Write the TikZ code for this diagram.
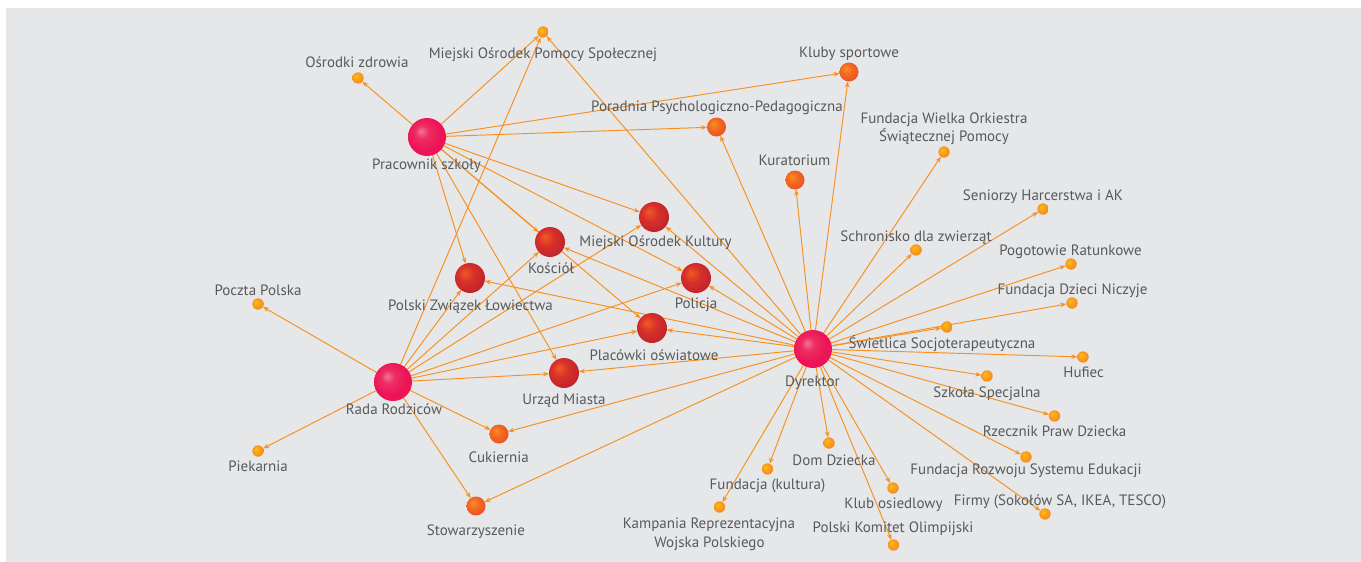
\documentclass[tikz,border=0pt]{standalone}
\usepackage{fontspec}
\setmainfont{PT Sans}
\usetikzlibrary{arrows.meta}
\definecolor{bggray}{HTML}{E6E7E8}
\definecolor{edgeor}{HTML}{F7901E}
\definecolor{txtgray}{HTML}{58595B}
\definecolor{pinkhi}{HTML}{F37594}
\definecolor{pinkmid}{HTML}{EE2D62}
\definecolor{pinkedge}{HTML}{EC1456}
\definecolor{redhi}{HTML}{F15A24}
\definecolor{redmid}{HTML}{D7302A}
\definecolor{rededge}{HTML}{B91F2E}
\definecolor{orhi}{HTML}{F7901E}
\definecolor{ormid}{HTML}{F26A22}
\definecolor{oredge}{HTML}{EE4B23}
\definecolor{yhi}{HTML}{FDC010}
\definecolor{ymid}{HTML}{F9A01B}
\definecolor{yedge}{HTML}{F5851F}
\pgfdeclareradialshading{pinkball}{\pgfpoint{-8bp}{8bp}}{color(0bp)=(pinkhi); color(9bp)=(pinkmid); color(22bp)=(pinkedge); color(50bp)=(pinkedge)}
\pgfdeclareradialshading{redball}{\pgfpoint{-9bp}{9bp}}{color(0bp)=(redhi); color(14bp)=(redmid); color(34bp)=(rededge); color(50bp)=(rededge)}
\pgfdeclareradialshading{orball}{\pgfpoint{-9bp}{9bp}}{color(0bp)=(orhi); color(14bp)=(ormid); color(32bp)=(oredge); color(50bp)=(oredge)}
\pgfdeclareradialshading{yball}{\pgfpoint{-9bp}{9bp}}{color(0bp)=(yhi); color(14bp)=(ymid); color(32bp)=(yedge); color(50bp)=(yedge)}
\pgfdeclarelayer{back}
\pgfdeclarelayer{edges}
\pgfsetlayers{back,edges,main}
\tikzset{
  ball/.style={circle, inner sep=0pt, outer sep=0pt},
  bigball/.style={ball, minimum size=38pt, shading=pinkball},
  redb/.style={ball, minimum size=30pt, shading=redball},
  orb/.style={ball, minimum size=19pt, shading=orball},
  dotb/.style={ball, minimum size=11.4pt, shading=yball},
  lbl/.style={anchor=base, inner sep=0pt, text=txtgray, font=\fontsize{15}{17}\selectfont},
  conn/.style={draw=edgeor, line width=0.95pt, -{Stealth[length=6pt,width=4.6pt]}},
}
\begin{document}
\begin{tikzpicture}[x=1pt, y=-1pt]
\useasboundingbox (0,0) rectangle (1361,562);
\begin{pgfonlayer}{back}
\fill[bggray] (6,8) rectangle (1361,562);
\end{pgfonlayer}
% hubs
\node[bigball] (P) at (427,137) {};
\node[bigball] (R) at (393,382) {};
\node[bigball] (D) at (813,349) {};
% red
\node[redb] (mok) at (654,217) {};
\node[redb] (policja) at (696,278) {};
\node[redb] (placowki) at (652,328) {};
\node[redb] (kosciol) at (550,242) {};
\node[redb] (pzl) at (470,278) {};
\node[redb] (urzad) at (564,373) {};
% orange
\node[orb] (kluby) at (849,72) {};
\node[orb] (poradnia) at (716.5,127) {};
\node[orb] (kurat) at (795,180) {};
\node[orb] (cukier) at (499,434) {};
\node[orb] (stow) at (476,506) {};
% small
\node[dotb] (mops) at (543,32) {};
\node[dotb] (osr) at (358,78) {};
\node[dotb] (wosp) at (944,152) {};
\node[dotb] (senior) at (1043,209) {};
\node[dotb] (schron) at (916,250) {};
\node[dotb] (pogot) at (1071,264) {};
\node[dotb] (fdn) at (1072,303) {};
\node[dotb] (swiet) at (947,327) {};
\node[dotb] (hufiec) at (1083,357) {};
\node[dotb] (szkola) at (987,376) {};
\node[dotb] (rzecz) at (1054.5,416) {};
\node[dotb] (frse) at (1026,457) {};
\node[dotb] (firmy) at (1045,514) {};
\node[dotb] (pko) at (893.5,545) {};
\node[dotb] (klub) at (893,488) {};
\node[dotb] (dom) at (829,443) {};
\node[dotb] (fkult) at (767.5,469) {};
\node[dotb] (kamp) at (719.5,507) {};
\node[dotb] (piek) at (258,451) {};
\node[dotb] (poczta) at (258,304) {};
% labels
\node[lbl] (lP) at (426.5,169.3) {Pracownik szkoły};
\node[lbl] (lR) at (394,414) {Rada Rodziców};
\node[lbl] (lD) at (812.5,386.7) {Dyrektor};
\node[lbl] (lmok) at (655.5,246.7) {Miejski Ośrodek Kultury};
\node[lbl] (lkosciol) at (551,273) {Kościół};
\node[lbl] (lpolicja) at (696,308) {Policja};
\node[lbl] (lpzl) at (470.5,310) {Polski Związek Łowiectwa};
\node[lbl] (lplacowki) at (654,360) {Placówki oświatowe};
\node[lbl] (lurzad) at (564,404) {Urząd Miasta};
\node[lbl] (lcukier) at (498.7,462.7) {Cukiernia};
\node[lbl] (lstow) at (476,535) {Stowarzyszenie};
\node[lbl] (lpiek) at (258,471.7) {Piekarnia};
\node[lbl] (lpoczta) at (258,295.7) {Poczta Polska};
\node[lbl] (losr) at (357,67) {Ośrodki zdrowia};
\node[lbl] (lmops) at (543,58.5) {Miejski Ośrodek Pomocy Społecznej};
\node[lbl] (lkluby) at (849,57.3) {Kluby sportowe};
\node[lbl] (lporadnia) at (717,111) {Poradnia Psychologiczno-Pedagogiczna};
\node[lbl] (lwosp) at (944,123.3) {Fundacja Wielka Orkiestra};
\node[lbl] (lwosp2) at (944,141.7) {Świątecznej Pomocy};
\node[lbl] (lkurat) at (794.5,165) {Kuratorium};
\node[lbl] (lsenior) at (1043,200) {Seniorzy Harcerstwa i AK};
\node[lbl] (lschron) at (916,241.7) {Schronisko dla zwierząt};
\node[lbl] (lpogot) at (1070.5,255) {Pogotowie Ratunkowe};
\node[lbl] (lfdn) at (1072.5,294) {Fundacja Dzieci Niczyje};
\node[lbl] (lswiet) at (942,348) {Świetlica Socjoterapeutyczna};
\node[lbl] (lhufiec) at (1083.7,377.5) {Hufiec};
\node[lbl] (lszkola) at (987,397.5) {Szkoła Specjalna};
\node[lbl] (lrzecz) at (1054.6,436.7) {Rzecznik Praw Dziecka};
\node[lbl] (lfrse) at (1026,474.3) {Fundacja Rozwoju Systemu Edukacji};
\node[lbl] (lfirmy) at (1060,505.7) {Firmy (Sokołów SA, IKEA, TESCO)};
\node[lbl] (lpko) at (893,532.3) {Polski Komitet Olimpijski};
\node[lbl] (lklub) at (893.5,508.3) {Klub osiedlowy};
\node[lbl] (ldom) at (834,465) {Dom Dziecka};
\node[lbl] (lfkult) at (767.5,489.3) {Fundacja (kultura)};
\node[lbl] (lkamp) at (709,528.3) {Kampania Reprezentacyjna};
\node[lbl] (lkamp2) at (709.5,547.3) {Wojska Polskiego};
% edges
\begin{pgfonlayer}{edges}
\foreach \t in {osr,mops,kluby,poradnia,mok,policja,kosciol,placowki,urzad,pzl}
  \draw[conn] (P) -- (\t);
\foreach \t in {poczta,piek,cukier,stow,mops,pzl,kosciol,mok,policja,placowki,urzad}
  \draw[conn] (R) -- (\t);
\foreach \t in {mops,poradnia,kurat,kluby,wosp,schron,senior,pogot,fdn,swiet,hufiec,szkola,rzecz,frse,firmy,pko,klub,dom,fkult,kamp,stow,cukier,urzad,placowki,pzl,kosciol,policja,mok}
  \draw[conn] (D) -- (\t);
\end{pgfonlayer}
\end{tikzpicture}
\end{document}
